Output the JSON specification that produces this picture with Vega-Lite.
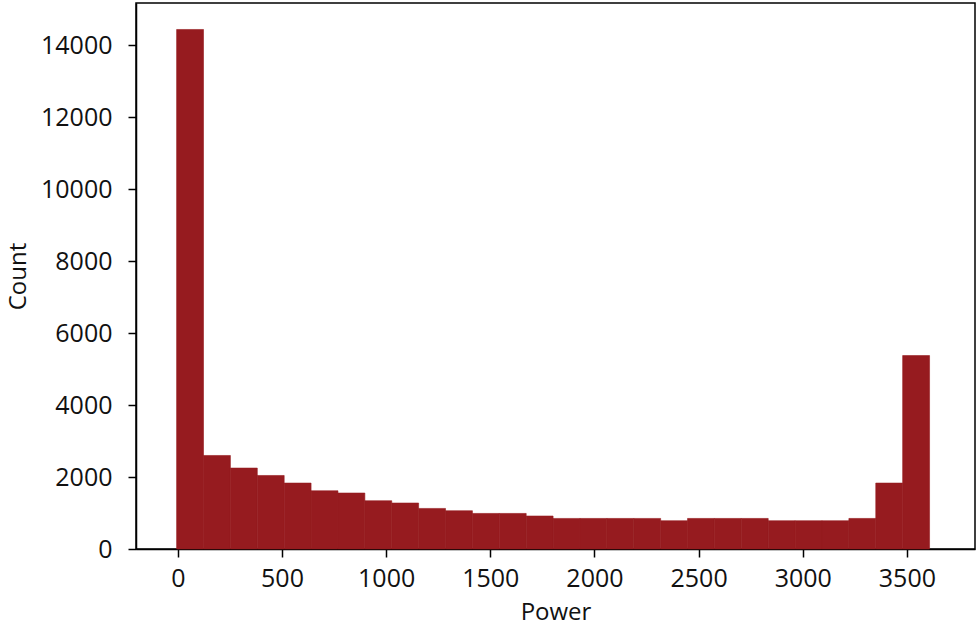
{
  "$schema": "https://vega.github.io/schema/vega-lite/v6.json",
  "width": 839,
  "height": 546,
  "autosize": {"type": "none"},
  "padding": {"left": 136, "top": 3, "right": 5, "bottom": 78},
  "background": "white",
  "config": {
    "view": {"stroke": "#000000", "strokeWidth": 1.5},
    "font": "Open Sans",
    "axis": {
      "grid": false,
      "domainColor": "#000000",
      "domainWidth": 1.5,
      "tickColor": "#000000",
      "tickWidth": 1.5,
      "tickSize": 8,
      "labelFont": "Open Sans",
      "labelFontSize": 25,
      "labelColor": "#111111",
      "titleFont": "Open Sans",
      "titleFontSize": 24,
      "titleFontWeight": "normal",
      "titleColor": "#111111"
    }
  },
  "data": {
    "values": [
      {"start": -6, "end": 123.1, "count": 14444},
      {"start": 123.1, "end": 252.2, "count": 2600},
      {"start": 252.2, "end": 381.3, "count": 2250},
      {"start": 381.3, "end": 510.4, "count": 2044},
      {"start": 510.4, "end": 639.5, "count": 1833},
      {"start": 639.5, "end": 768.6, "count": 1619},
      {"start": 768.6, "end": 897.7, "count": 1556},
      {"start": 897.7, "end": 1026.8, "count": 1342},
      {"start": 1026.8, "end": 1155.9, "count": 1278},
      {"start": 1155.9, "end": 1285, "count": 1128},
      {"start": 1285, "end": 1414.1, "count": 1064},
      {"start": 1414.1, "end": 1543.2, "count": 989},
      {"start": 1543.2, "end": 1672.3, "count": 989},
      {"start": 1672.3, "end": 1801.4, "count": 917},
      {"start": 1801.4, "end": 1930.5, "count": 850},
      {"start": 1930.5, "end": 2059.6, "count": 850},
      {"start": 2059.6, "end": 2188.7, "count": 850},
      {"start": 2188.7, "end": 2317.8, "count": 850},
      {"start": 2317.8, "end": 2446.9, "count": 786},
      {"start": 2446.9, "end": 2576, "count": 850},
      {"start": 2576, "end": 2705.1, "count": 850},
      {"start": 2705.1, "end": 2834.2, "count": 850},
      {"start": 2834.2, "end": 2963.3, "count": 786},
      {"start": 2963.3, "end": 3092.4, "count": 786},
      {"start": 3092.4, "end": 3221.5, "count": 786},
      {"start": 3221.5, "end": 3350.6, "count": 850},
      {"start": 3350.6, "end": 3479.7, "count": 1833},
      {"start": 3479.7, "end": 3608.8, "count": 5378}
    ]
  },
  "mark": {"type": "bar", "color": "#961b1f", "stroke": "#961b1f", "strokeWidth": 0.6, "orient": "vertical"},
  "encoding": {
    "x": {
      "field": "start",
      "type": "quantitative",
      "scale": {"domain": [-177, 3803], "nice": false, "zero": false},
      "axis": {"title": "Power", "values": [0, 500, 1000, 1500, 2000, 2500, 3000, 3500], "format": "d", "labelPadding": 9, "titlePadding": 9}
    },
    "x2": {"field": "end"},
    "y": {
      "field": "count",
      "type": "quantitative",
      "scale": {"domain": [0, 15180], "nice": false},
      "axis": {"title": "Count", "values": [0, 2000, 4000, 6000, 8000, 10000, 12000, 14000], "format": "d", "labelPadding": 16, "titlePadding": 10}
    },
    "y2": {"datum": 0}
  }
}
